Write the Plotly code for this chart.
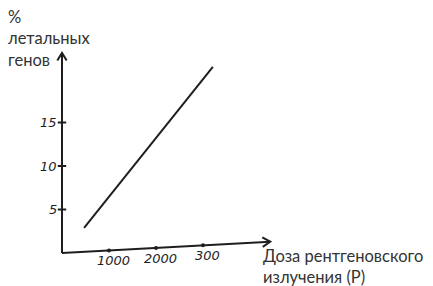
import plotly.graph_objects as go

# ---- data ----
dose = [470, 3210]            # X-ray dose (R)
lethal = [2.9, 21.4]          # % lethal genes
y_ticks = [5, 10, 15]
y_tick_labels = ["5", "10", "15"]
x_ticks = [1000, 2000, 3000]
x_tick_labels = ["1000", "2000", "300"]
y_title = "%<br>летальных<br>генов"
x_title = "Доза рентгеновского<br>излучения (Р)"

# axis extents (data units)
x_axis_max = 4430
y_axis_max = 23.0
x_axis_rise = 1.3   # hand-drawn x axis rises slightly

W, H = 433, 286
X0, X1 = -1319, 7894
Y0, Y1 = -3.79, 29.08
sx = W / (X1 - X0)   # px per data unit
sy = H / (Y1 - Y0)

INK = "#1e1e1e"
TXT = "#333333"

fig = go.Figure()

def seg(xs, ys, width=2):
    fig.add_trace(go.Scatter(x=xs, y=ys, mode="lines",
                             line=dict(color=INK, width=width),
                             hoverinfo="skip", showlegend=False))

def chevron(xa, ya, xb, yb, size=9, spread=0.55):
    # arrowhead at (xb,yb) pointing from (xa,ya), computed in pixel space
    import math
    dxp, dyp = (xb - xa) * sx, (yb - ya) * sy
    ang = math.atan2(dyp, dxp)
    pts = []
    for s in (+1, -1):
        a = ang + math.pi + s * spread
        pts.append((xb + size * math.cos(a) / sx, yb + size * math.sin(a) / sy))
    seg([pts[0][0], xb, pts[1][0]], [pts[0][1], yb, pts[1][1]], width=2)

# axes
seg([0, 0], [0, y_axis_max])
chevron(0, 0, 0, y_axis_max)
seg([0, x_axis_max], [0, x_axis_rise])
chevron(0, 0, x_axis_max, x_axis_rise)

# tick marks
fig.add_trace(go.Scatter(x=[0] * len(y_ticks), y=y_ticks, mode="markers",
                         marker=dict(symbol="line-ew", size=6,
                                     line=dict(color=INK, width=2)),
                         hoverinfo="skip", showlegend=False))
x_tick_y = [x_axis_rise * v / x_axis_max for v in x_ticks]
fig.add_trace(go.Scatter(x=x_ticks, y=x_tick_y, mode="markers",
                         marker=dict(symbol="circle", size=4, color=INK),
                         hoverinfo="skip", showlegend=False))

# data line
fig.add_trace(go.Scatter(x=dose, y=lethal, mode="lines",
                         line=dict(color=INK, width=2),
                         hoverinfo="skip", showlegend=False))

tick_font = dict(family="DejaVu Sans", size=13, color=INK, style="italic")
for v, t in zip(y_ticks, y_tick_labels):
    fig.add_annotation(x=0, y=v, text=t, showarrow=False, xanchor="right",
                       yanchor="middle", xshift=-3, font=tick_font)
for v, yy, t in zip(x_ticks, x_tick_y, x_tick_labels):
    fig.add_annotation(x=v, y=yy, text=t, showarrow=False, xanchor="center",
                       yanchor="top", xshift=5, yshift=-1, font=tick_font)

lab_font = dict(family="Lato", size=16.5, color=TXT)
fig.add_annotation(xref="paper", yref="paper", x=6 / W, y=1 - 5 / H,
                   text=y_title, showarrow=False, xanchor="left", yanchor="top",
                   align="left", font=lab_font)
fig.add_annotation(xref="paper", yref="paper", x=261 / W, y=1 - 244 / H,
                   text=x_title, showarrow=False, xanchor="left", yanchor="top",
                   align="left", font=lab_font)

fig.update_layout(
    width=W, height=H,
    margin=dict(l=0, r=0, t=0, b=0),
    paper_bgcolor="white", plot_bgcolor="white",
    xaxis=dict(range=[X0, X1], visible=False, fixedrange=True),
    yaxis=dict(range=[Y0, Y1], visible=False, fixedrange=True),
    showlegend=False,
)

fig.write_html("out.html", config={"displayModeBar": False},
               post_script="document.body.style.margin='0';")
